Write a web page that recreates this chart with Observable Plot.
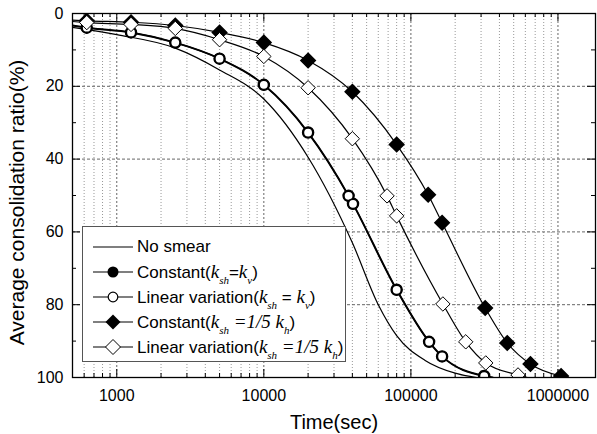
<!DOCTYPE html>
<html><head><meta charset="utf-8">
<script src="https://cdn.jsdelivr.net/npm/d3@7"></script>
<script src="https://cdn.jsdelivr.net/npm/@observablehq/plot@0.6"></script>
<style>
body{margin:0;background:#fff;}
#wrap{position:relative;width:597px;height:434px;font-family:"Liberation Sans",Arial,sans-serif;}
#legend{position:absolute;left:82px;top:226px;width:262px;height:127px;border:1px solid #555;background:#fff;padding-top:7px;}
.row{display:flex;align-items:center;height:25px;font-size:17px;white-space:nowrap;color:#000}
.row svg{margin-left:10px;margin-right:2px;flex:none}
.m{font-family:"Liberation Serif",serif;font-style:italic;font-size:19px}
.s{font-family:"Liberation Serif",serif;font-style:italic;font-size:11px;position:relative;top:6px}
</style></head>
<body>
<div id="wrap"><div id="chart"></div><div id="legend"></div></div>
<script>
// ---- data ----
const noSmearTime  = [500, 1000, 2500, 5000, 10000, 20000, 40000, 60000, 80000, 125000, 200000, 280000];
const noSmearRatio = [3.8, 5.8, 9.5, 15.5, 23.5, 39.5, 63, 80, 88.5, 95.3, 98.8, 100];

const constKvTime  = [625, 1250, 2500, 5000, 10000, 20000, 37700, 40400, 80000, 133000, 163000, 315000];
const constKvRatio = [3.9, 5.2, 8.0, 12.4, 19.6, 32.7, 50.1, 52.3, 75.9, 90.2, 94.2, 99.6];
const constKvEnds  = [[500, 3.3], [360000, 100]];

const linKvTime  = [625, 1250, 2500, 5000, 10000, 20000, 37700, 40400, 80000, 133000, 163000, 315000];
const linKvRatio = [3.9, 5.2, 8.0, 12.4, 19.6, 32.7, 50.1, 52.3, 75.9, 90.2, 94.2, 99.6];
const linKvEnds  = [[500, 3.3], [360000, 100]];

const constKhTime  = [625, 1250, 2500, 5000, 10000, 20000, 40000, 80000, 131000, 163000, 320000, 452000, 650000, 1050000];
const constKhRatio = [2.0, 2.4, 3.3, 5.2, 8.0, 12.9, 21.5, 36.0, 49.8, 57.5, 80.9, 90.5, 96.3, 99.6];
const constKhEnds  = [[500, 1.8], [1200000, 100]];

const linKhTime  = [625, 1250, 2500, 5000, 10000, 20000, 40000, 68800, 80000, 165000, 236000, 323000, 535000];
const linKhRatio = [2.5, 3.0, 4.1, 7.2, 11.8, 20.4, 34.4, 50.1, 55.6, 79.8, 90.2, 96.0, 99.3];
const linKhEnds  = [[500, 2.2], [620000, 100]];

const xTickLabels = [1000, 10000, 100000, 1000000];
const yTickLabels = [0, 20, 40, 60, 80, 100];
const yMinorTicks = [10, 30, 50, 70, 90];
const xMinorTicks = [600,700,800,900,2000,3000,4000,5000,6000,7000,8000,9000,
  20000,30000,40000,50000,60000,70000,80000,90000,200000,300000,400000,500000,600000,700000,800000,900000];

// ---- build tables ----
const pts = (ts, vs) => ts.map((t, i) => ({t, v: vs[i]}));
const withEnds = (ts, vs, ends) => [{t: ends[0][0], v: ends[0][1]}, ...pts(ts, vs), {t: ends[1][0], v: ends[1][1]}];

const noSmear = pts(noSmearTime, noSmearRatio);
const constKv = pts(constKvTime, constKvRatio);
const linKv = pts(linKvTime, linKvRatio);
const constKh = pts(constKhTime, constKhRatio);
const linKh = pts(linKhTime, linKhRatio);

const W = 597, H = 434, mt = 13, mb = 57, ml = 72, mr = 2;
const innerW = W - ml - mr, innerH = H - mt - mb;

const lineOpts = {x: "t", y: "v", curve: "monotone-x", stroke: "#000", strokeWidth: 1.2, clip: true};

const chart = Plot.plot({
  width: W, height: H,
  marginTop: mt, marginBottom: mb, marginLeft: ml, marginRight: mr,
  style: {fontFamily: "'Liberation Sans', Arial, sans-serif", fontSize: "16px", background: "#fff", color: "#000"},
  x: {type: "log", domain: [500, 1.8e6]},
  y: {domain: [0, 100], reverse: true},
  marks: [
    Plot.gridX(xMinorTicks, {stroke: "#999", strokeOpacity: 1, strokeDasharray: "1,2"}),
    Plot.gridX(xTickLabels, {stroke: "#666", strokeOpacity: 1, strokeDasharray: "2,2"}),
    Plot.gridY([20, 40, 60, 80], {stroke: "#666", strokeOpacity: 1, strokeDasharray: "3,2"}),
    // inward ticks on all four sides
    Plot.ruleX(xTickLabels, {insetTop: innerH - 8, stroke: "#000"}),
    Plot.ruleX(xTickLabels, {insetBottom: innerH - 8, stroke: "#000"}),
    Plot.ruleX(xMinorTicks, {insetTop: innerH - 4, stroke: "#000"}),
    Plot.ruleX(xMinorTicks, {insetBottom: innerH - 4, stroke: "#000"}),
    Plot.ruleY(yTickLabels, {insetRight: innerW - 8, stroke: "#000"}),
    Plot.ruleY(yTickLabels, {insetLeft: innerW - 8, stroke: "#000"}),
    Plot.ruleY(yMinorTicks, {insetRight: innerW - 4, stroke: "#000"}),
    Plot.ruleY(yMinorTicks, {insetLeft: innerW - 4, stroke: "#000"}),
    Plot.axisX(xTickLabels, {tickSize: 0, tickPadding: 12, tickFormat: d => String(d), fontSize: 16, label: null}),
    Plot.axisY(yTickLabels, {tickSize: 0, tickPadding: 9, tickFormat: d => String(d), fontSize: 16, label: null}),
    Plot.text(["Time(sec)"], {frameAnchor: "bottom", dy: 51, fontSize: 20}),
    Plot.text(["Average consolidation ratio(%)"], {frameAnchor: "left", textAnchor: "middle", rotate: -90, dx: -55, dy: 7, fontSize: 21}),
    // curves
    Plot.line(noSmear, lineOpts),
    Plot.line(withEnds(constKvTime, constKvRatio, constKvEnds), {...lineOpts, strokeWidth: 2}),
    Plot.line(withEnds(linKvTime, linKvRatio, linKvEnds), lineOpts),
    Plot.line(withEnds(constKhTime, constKhRatio, constKhEnds), lineOpts),
    Plot.line(withEnds(linKhTime, linKhRatio, linKhEnds), lineOpts),
    // markers
    Plot.dot(constKv, {x: "t", y: "v", r: 5.5, fill: "#000", stroke: "#000", clip: true}),
    Plot.dot(linKv, {x: "t", y: "v", r: 4.8, fill: "#fff", stroke: "#000", strokeWidth: 1.8, clip: true}),
    Plot.dot(constKh, {x: "t", y: "v", r: 6.5, symbol: "diamond2", fill: "#000", stroke: "#000", clip: true}),
    Plot.dot(linKh, {x: "t", y: "v", r: 6.5, symbol: "diamond2", fill: "#fff", stroke: "#000", strokeWidth: 1, clip: true}),
    Plot.frame({stroke: "#000", strokeWidth: 1.3})
  ]
});
document.getElementById("chart").appendChild(chart);

// ---- legend ----
const k = (sub) => `<span class="m">k</span><span class="s">${sub}</span>`;
const legendItems = [
  {marker: null, label: "No smear"},
  {marker: "fc", label: `Constant(${k("sh")}=${k("v")})`},
  {marker: "oc", label: `Linear variation(${k("sh")} = ${k("v")})`},
  {marker: "fd", label: `Constant(${k("sh")} <span class="m">=1/5 </span>${k("h")})`},
  {marker: "od", label: `Linear variation(${k("sh")} <span class="m">=1/5 </span>${k("h")})`}
];
const markerSvg = (m) => {
  if (m === "fc") return '<circle cx="20" cy="10" r="5.5" fill="#000"/>';
  if (m === "oc") return '<circle cx="20" cy="10" r="4.8" fill="#fff" stroke="#000" stroke-width="1.2"/>';
  if (m === "fd") return '<path d="M20 2.5L27.5 10L20 17.5L12.5 10Z" fill="#000"/>';
  if (m === "od") return '<path d="M20 2.5L27.5 10L20 17.5L12.5 10Z" fill="#fff" stroke="#000" stroke-width="1"/>';
  return "";
};
document.getElementById("legend").innerHTML = legendItems.map(d =>
  `<div class="row"><svg width="42" height="20"><line x1="0" x2="40" y1="10" y2="10" stroke="#000" stroke-width="1.2"/>${markerSvg(d.marker)}</svg><span>${d.label}</span></div>`
).join("");
</script>
</body></html>
